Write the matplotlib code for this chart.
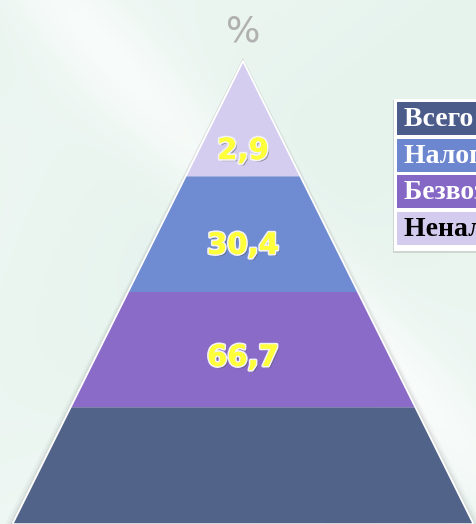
import numpy as np
import matplotlib
matplotlib.use("Agg")
import matplotlib.pyplot as plt
from matplotlib.patches import Polygon, Rectangle
import matplotlib.patheffects as pe

# ---- data ----
levels = ["Неналоговые доходы", "Налоговые доходы", "Безвозмездные поступления", "Всего доходов"]  # top -> bottom
values = [2.9, 30.4, 66.7, None]
level_colors = ["#D4CDEF", "#6F8BD1", "#8A6CC8", "#52638A"]
legend_labels = ["Всего доходов", "Налоговые доходы", "Безвозмездные поступления", "Неналоговые доходы"]
legend_colors = ["#4C5C8A", "#6C87D0", "#8567C6", "#D4CCEE"]
legend_text_colors = ["white", "white", "white", "black"]
unit_label = "%"

W, H = 477, 524
fig = plt.figure(figsize=(W / 100, H / 100), dpi=100)
ax = fig.add_axes([0, 0, 1, 1])
ax.set_xlim(0, W)
ax.set_ylim(H, 0)
ax.axis("off")

# background
yy, xx = np.mgrid[0:H, 0:W]
base = np.array([230, 243, 237]) / 255.0
s = 0.5 + 0.5 * np.sin((xx * 0.8 + yy) / 90.0)
s2 = np.exp(-((xx - yy * 0.9 - 60) / 60.0) ** 2)
s3 = np.clip((H - xx - (H - yy)) / 400.0, 0, 1) * np.clip(yy / H, 0, 1)
bg = np.zeros((H, W, 3))
for c in range(3):
    bg[..., c] = base[c] + (1 - base[c]) * np.clip(0.22 * s + 0.5 * s2 + 0.3 * s3, 0, 1)
bg = np.clip(bg, 0, 1)
ax.imshow(bg, extent=(0, W, H, 0), zorder=0, aspect="auto")

# pyramid geometry
cx = 243
apex_y = 61
base_y = 523
half_base = 230
n = len(levels)
band_h = (base_y - apex_y) / n
slope = half_base / (base_y - apex_y)

# shadow
for k, a in [(8, 0.05), (5, 0.07), (3, 0.09)]:
    ax.add_patch(Polygon([(cx, apex_y - 3), (cx - half_base - k, base_y + 1), (cx + half_base + k, base_y + 1)],
                         closed=True, facecolor="#707070", alpha=a, edgecolor="none", zorder=1))

for i, (lev, col) in enumerate(zip(levels, level_colors)):
    yt = apex_y + i * band_h
    yb = apex_y + (i + 1) * band_h
    wt = (yt - apex_y) * slope
    wb = (yb - apex_y) * slope
    pts = [(cx - wt, yt), (cx + wt, yt), (cx + wb, yb), (cx - wb, yb)]
    ax.add_patch(Polygon(pts, closed=True, facecolor=col, edgecolor="none", zorder=2))

# white outline
ax.plot([cx - half_base, cx, cx + half_base], [base_y, apex_y, base_y], color="white", lw=1.3, zorder=3)

# value labels
offsets = [0.78, 0.6, 0.57]
for i, v in enumerate(values):
    if v is None:
        continue
    y = apex_y + (i + offsets[i]) * band_h
    ax.text(cx, y, f"{v:.1f}".replace(".", ","), ha="center", va="center",
            fontsize=21, fontweight="bold", color="#FFFF3A", family="DejaVu Sans", zorder=5,
            path_effects=[pe.withSimplePatchShadow(offset=(1.5, -1.5), shadow_rgbFace="#505050", alpha=0.5),
                          pe.withStroke(linewidth=2.5, foreground="#F2F2F2"),
                          pe.Normal()])

# unit label
ax.text(cx, 31, unit_label, ha="center", va="center", fontsize=26, color="#B0B0B0",
        family="DejaVu Sans", zorder=5)

# legend
lx = 394
ltop = 99
row_h = 36.7
box_h = 33
ax.add_patch(Rectangle((lx - 1, ltop + 1), W, 4 * row_h + 6, facecolor="#808080", alpha=0.25,
                       edgecolor="none", zorder=5))
ax.add_patch(Rectangle((lx, ltop), W, 4 * row_h + 5, facecolor="white", edgecolor="none", zorder=6))
for j, (lab, col, tc) in enumerate(zip(legend_labels, legend_colors, legend_text_colors)):
    y0 = ltop + 3 + j * row_h
    ax.add_patch(Rectangle((lx + 3, y0), W, box_h, facecolor=col, edgecolor="none", zorder=7))
    ax.text(lx + 10, y0 + box_h / 2 + 1, lab, ha="left", va="center", fontsize=20, fontweight="bold",
            color=tc, family="Liberation Serif", zorder=8, clip_on=True)

fig.savefig("out.png", dpi=100)
